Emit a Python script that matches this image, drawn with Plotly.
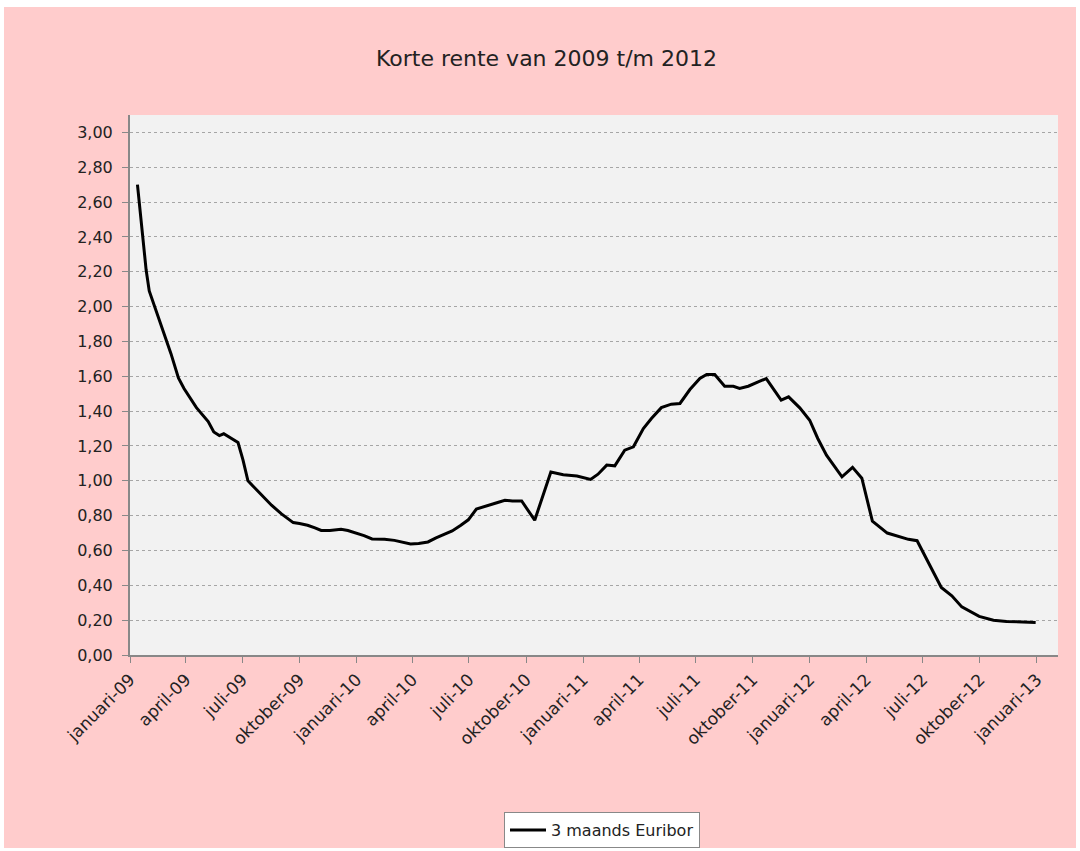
import plotly.graph_objects as go

# ---- data ----
dates = [
    "2009-01-13", "2009-01-18", "2009-01-22", "2009-01-27", "2009-02-01", "2009-02-12",
    "2009-02-24", "2009-03-08", "2009-03-20", "2009-03-29", "2009-04-18", "2009-05-07",
    "2009-05-16", "2009-05-25", "2009-06-01", "2009-06-10", "2009-06-24", "2009-07-02",
    "2009-07-10", "2009-07-18", "2009-08-03", "2009-08-17", "2009-09-02", "2009-09-21",
    "2009-10-01", "2009-10-14", "2009-10-26", "2009-11-05", "2009-11-19", "2009-12-07",
    "2009-12-18", "2010-01-01", "2010-01-13", "2010-01-26", "2010-02-15", "2010-03-03",
    "2010-03-16", "2010-03-29", "2010-04-11", "2010-04-26", "2010-05-09", "2010-05-22",
    "2010-06-04", "2010-06-18", "2010-06-30", "2010-07-13", "2010-07-31", "2010-08-15",
    "2010-08-28", "2010-09-09", "2010-09-24", "2010-10-15", "2010-11-10", "2010-11-30",
    "2010-12-22", "2011-01-03", "2011-01-13", "2011-01-25", "2011-02-08", "2011-02-21",
    "2011-03-09", "2011-03-23", "2011-04-08", "2011-04-21", "2011-05-07", "2011-05-23",
    "2011-06-06", "2011-06-22", "2011-07-08", "2011-07-19", "2011-08-01", "2011-08-17",
    "2011-08-31", "2011-09-10", "2011-09-24", "2011-10-10", "2011-10-23", "2011-11-16",
    "2011-11-28", "2011-12-16", "2012-01-01", "2012-01-14", "2012-01-28", "2012-02-22",
    "2012-03-10", "2012-03-25", "2012-04-11", "2012-05-05", "2012-05-22", "2012-06-08",
    "2012-06-22", "2012-07-09", "2012-07-31", "2012-08-17", "2012-09-02", "2012-09-30",
    "2012-10-23", "2012-11-13", "2012-12-05", "2012-12-30",
]
euribor_3m = [
    2.70, 2.53, 2.40, 2.21, 2.09, 1.98,
    1.86, 1.73, 1.59, 1.53, 1.42, 1.34,
    1.28, 1.26, 1.27, 1.25, 1.22, 1.12,
    1.00, 0.97, 0.91, 0.86, 0.81, 0.76,
    0.755, 0.745, 0.73, 0.715, 0.715, 0.722,
    0.715, 0.70, 0.685, 0.666, 0.664, 0.658,
    0.647, 0.637, 0.64, 0.649, 0.672, 0.692,
    0.712, 0.745, 0.776, 0.838, 0.86, 0.874,
    0.888, 0.884, 0.884, 0.774, 1.051, 1.035,
    1.027, 1.017, 1.008, 1.038, 1.09, 1.086,
    1.176, 1.195, 1.30, 1.358, 1.42, 1.44,
    1.444, 1.524, 1.587, 1.61, 1.61, 1.543,
    1.543, 1.53, 1.543, 1.568, 1.587, 1.463,
    1.482, 1.419, 1.348, 1.243, 1.147, 1.023,
    1.077, 1.015, 0.768, 0.70, 0.684, 0.664,
    0.656, 0.54, 0.388, 0.34, 0.276, 0.222,
    0.20, 0.193, 0.19, 0.187,
]
x_tick_vals = [
    "2009-01-01", "2009-04-01", "2009-07-01", "2009-10-01",
    "2010-01-01", "2010-04-01", "2010-07-01", "2010-10-01",
    "2011-01-01", "2011-04-01", "2011-07-01", "2011-10-01",
    "2012-01-01", "2012-04-01", "2012-07-01", "2012-10-01",
    "2013-01-01",
]
x_tick_text = [
    "januari-09", "april-09", "juli-09", "oktober-09",
    "januari-10", "april-10", "juli-10", "oktober-10",
    "januari-11", "april-11", "juli-11", "oktober-11",
    "januari-12", "april-12", "juli-12", "oktober-12",
    "januari-13",
]
y_tick_vals = [0.0, 0.2, 0.4, 0.6, 0.8, 1.0, 1.2, 1.4, 1.6, 1.8, 2.0, 2.2, 2.4, 2.6, 2.8, 3.0]
series_name = "3 maands Euribor"
title_text = "Korte rente van 2009 t/m 2012"

FONT = "DejaVu Sans"
TXT = "#222222"

fig = go.Figure()
fig.add_trace(go.Scatter(
    x=dates, y=euribor_3m, mode="lines", name=series_name,
    line=dict(color="#000000", width=3),
))

W, H = 1080, 851
L, R, T, B = 130, 22, 115, 196
pw, ph = W - L - R, H - T - B

fig.update_layout(
    width=W, height=H,
    margin=dict(l=L, r=R, t=T, b=B, autoexpand=False),
    paper_bgcolor="#ffffff",
    plot_bgcolor="rgba(0,0,0,0)",
    separators=",.",
    font=dict(family=FONT, size=15, color=TXT),
    title=dict(text=title_text, x=0.506, xref="container", xanchor="center",
               y=1 - 58 / H, yref="container", yanchor="middle",
               font=dict(family=FONT, size=22, color=TXT)),
    showlegend=True,
    legend=dict(x=(602 - L) / pw, xanchor="center", y=-(812 - 655) / ph, yanchor="top",
                orientation="h", bgcolor="#ffffff", bordercolor="#888888", borderwidth=1,
                font=dict(family=FONT, size=16, color=TXT), itemwidth=36),
    shapes=[
        dict(type="rect", xref="paper", yref="paper",
             x0=(4 - L) / pw, x1=(1076 - L) / pw,
             y0=-(848 - 655) / ph, y1=(655 - 7) / ph,
             fillcolor="#ffcccc", line=dict(width=0), layer="below"),
        dict(type="rect", xref="paper", yref="paper", x0=0, x1=1, y0=0, y1=1,
             fillcolor="#f2f2f2", line=dict(width=0), layer="below"),
    ],
)

fig.update_xaxes(
    type="date",
    range=["2009-01-01", "2013-02-04"],
    tickmode="array", tickvals=x_tick_vals, ticktext=x_tick_text,
    tickangle=-45, ticks="outside", ticklen=6, tickcolor="#888888",
    showgrid=False, zeroline=False,
    showline=True, linecolor="#888888", linewidth=2,
    tickfont=dict(family=FONT, size=17, color=TXT),
)
fig.update_yaxes(
    range=[0, 3.1],
    tickmode="array", tickvals=y_tick_vals, tickformat=".2f",
    ticks="outside", ticklen=6, tickcolor="#888888",
    showgrid=True, gridcolor="#a6a6a6", griddash="3px,3px", gridwidth=1,
    zeroline=False,
    showline=True, linecolor="#888888", linewidth=2,
    tickfont=dict(family=FONT, size=16, color=TXT),
    ticklabelstandoff=6,
)

fig.write_html(
    "out.html",
    config={"displayModeBar": False},
    post_script="document.body.style.margin='0';document.body.style.overflow='hidden';",
)
